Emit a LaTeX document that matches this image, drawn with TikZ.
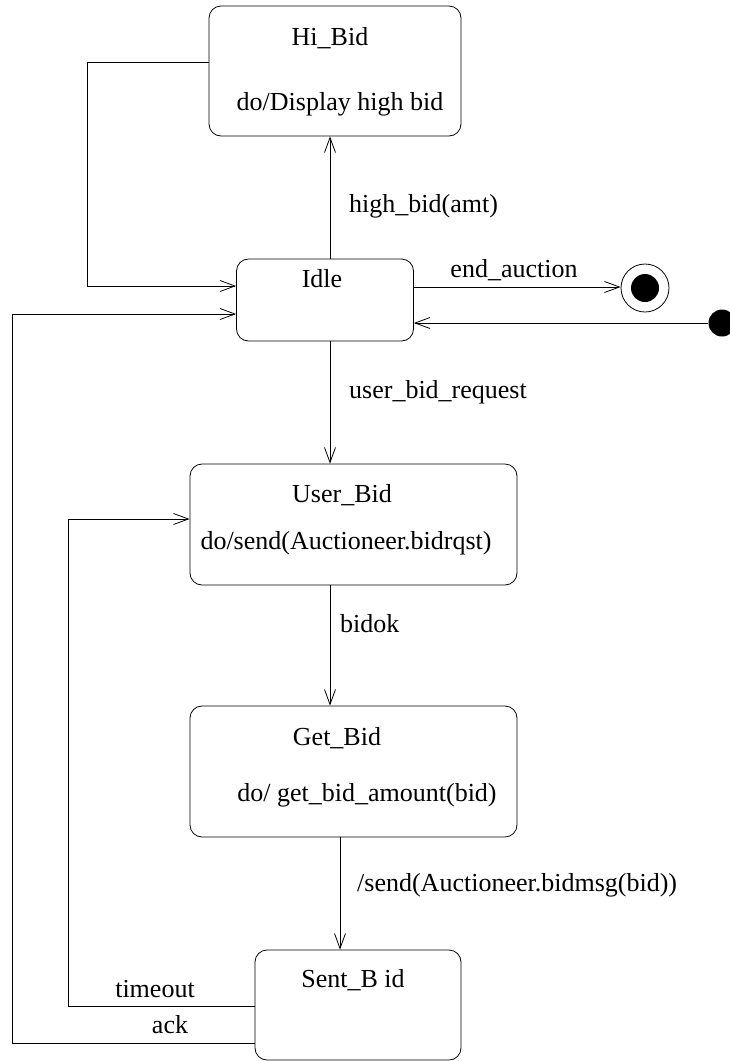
\documentclass[tikz,border=0pt]{standalone}
\usepackage{fontspec}
\setmainfont{Liberation Serif}
\usetikzlibrary{arrows.meta}
\begin{document}
\begin{tikzpicture}[x=1pt,y=-1pt,
  statebox/.style={draw,rounded corners=12pt,line width=0.8pt,inner sep=0pt},
  txt/.style={inner sep=0pt,font=\fontsize{26}{31}\selectfont},
  conn/.style={line width=0.8pt,-{Straight Barb[length=15pt,width=11pt,line width=0.8pt]}},
  plain/.style={line width=0.8pt}]
\useasboundingbox (0,0) rectangle (730,1061);
\clip (0,0) rectangle (730,1061);
% states
\node[statebox,minimum width=252pt,minimum height=130pt] (hibid) at (335,71) {};
\node[statebox,minimum width=177pt,minimum height=82pt] (idle) at (325,300) {};
\node[statebox,minimum width=327pt,minimum height=121pt] (userbid) at (353.5,524.5) {};
\node[statebox,minimum width=327pt,minimum height=131pt] (getbid) at (353.5,771.5) {};
\node[statebox,minimum width=206pt,minimum height=110pt] (sentbid) at (358,1005) {};
% texts
\node[txt,anchor=base] (t1) at (330,45) {Hi\_Bid};
\node[txt,anchor=base] (t2) at (340,110) {do/Display high bid};
\node[txt,anchor=base] (t3) at (322,287) {Idle};
\node[txt,anchor=base] (t4) at (342,502) {User\_Bid};
\node[txt,anchor=base] (t5) at (346,549) {do/send(Auctioneer.bidrqst)};
\node[txt,anchor=base] (t6) at (337,745) {Get\_Bid};
\node[txt,anchor=base] (t7) at (367,801) {do/ get\_bid\_amount(bid)};
\node[txt,anchor=base] (t8) at (353,987) {Sent\_B id};
% pseudo states
\node[draw,circle,line width=0.8pt,minimum size=48pt,inner sep=0pt] (final) at (645,288) {};
\node[fill,circle,minimum size=28pt,inner sep=0pt] (finalin) at (645,288) {};
\node[fill,circle,minimum size=27pt,inner sep=0pt] (init) at (722,323) {};
% helper coordinates
\coordinate (hbl) at (hibid.west |- 0,62);
\coordinate (c1) at (87,62);
\coordinate (c2) at (87,286);
\coordinate (il1) at (idle.west |- 0,286);
\coordinate (il2) at (idle.west |- 0,314);
\coordinate (ir1) at (idle.east |- 0,287);
\coordinate (ir2) at (idle.east |- 0,323);
\coordinate (ub) at (userbid.west |- 0,519);
\coordinate (sb1) at (sentbid.west |- 0,1006);
\coordinate (sb2) at (sentbid.west |- 0,1043);
\coordinate (d1) at (68,1006);
\coordinate (d2) at (68,519);
\coordinate (e1) at (12,1043);
\coordinate (e2) at (12,314);
% connectors
\draw[conn] (hbl) -- (c1) -- (c2) -- (il1);
\draw[conn] (idle.north -| 330,0) -- (hibid.south -| 330,0);
\draw[conn] (ir1) -- (final.west |- ir1);
\draw[conn] (init) -- (ir2);
\draw[conn] (idle.south -| 330,0) -- (userbid.north -| 330,0);
\draw[conn] (userbid.south -| 330,0) -- (getbid.north -| 330,0);
\draw[conn] (getbid.south -| 340,0) -- (sentbid.north -| 340,0);
\draw[conn] (sb1) -- (d1) -- (d2) -- (ub);
\draw[conn] (sb2) -- (e1) -- (e2) -- (il2);
% labels
\node[txt,anchor=base west] (l1) at (349,212) {high\_bid(amt)};
\node[txt,anchor=base] (l2) at (514,277) {end\_auction};
\node[txt,anchor=base west] (l3) at (349,398) {user\_bid\_request};
\node[txt,anchor=base west] (l4) at (340,632) {bidok};
\node[txt,anchor=base west] (l5) at (357,891) {/send(Auctioneer.bidmsg(bid))};
\node[txt,anchor=base] (l6) at (155,997) {timeout};
\node[txt,anchor=base] (l7) at (170,1033) {ack};
\end{tikzpicture}
\end{document}
